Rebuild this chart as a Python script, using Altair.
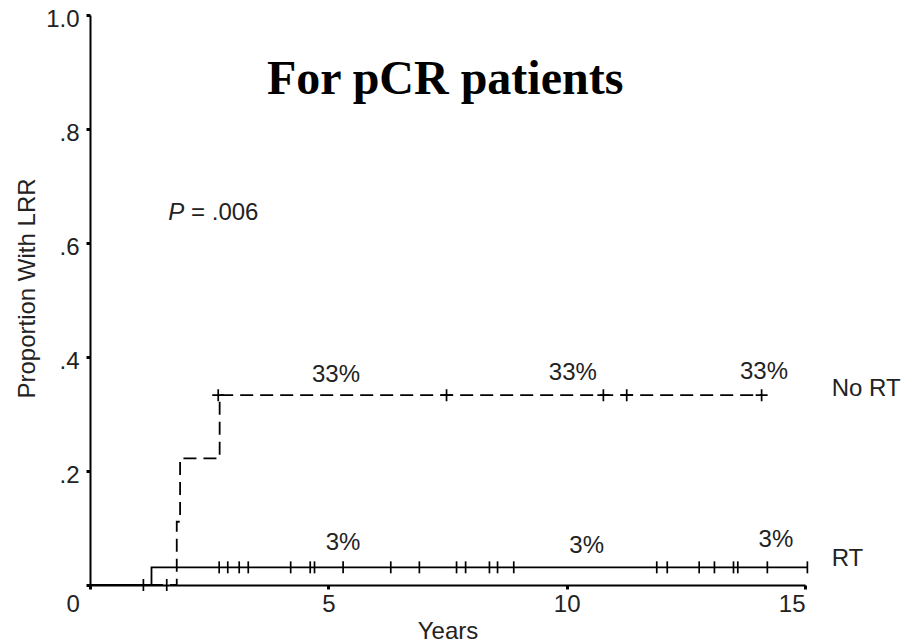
import altair as alt
import pandas as pd

# ---- Kaplan-Meier step curves (years, proportion with LRR) ----
no_rt_time = [0, 1.82, 1.89, 2.72, 14.09]
no_rt_prop = [0, 0.111, 0.222, 0.333, 0.333]
rt_time = [0, 1.29, 15.05]
rt_prop = [0, 0.031, 0.031]

# ---- censor marks ----
rt_cens_time = [1.12, 2.71, 2.89, 3.13, 3.32, 4.21, 4.62, 4.71, 5.31, 6.31, 6.91,
                7.69, 7.88, 8.38, 8.55, 8.89, 11.89, 12.11, 12.78, 13.10, 13.50,
                13.59, 14.21, 15.05]
rt_cens_prop = [0] + [0.031] * 23
no_rt_cens_time = [1.61, 2.69, 7.48, 10.77, 11.26, 14.09]
no_rt_cens_prop = [0, 0.333, 0.333, 0.333, 0.333, 0.333]

# ---- annotations ----
pct_text = ["33%", "33%", "33%", "3%", "3%", "3%"]
pct_x = [5.16, 10.13, 14.14, 5.31, 10.42, 14.39]
pct_y = [0.357, 0.36, 0.362, 0.061, 0.056, 0.066]
group_text = ["No RT", "RT"]
group_x = [15.56, 15.56]
group_y = [0.331, 0.033]
title_text = ["For pCR patients"]
title_x = [7.45]
title_y = [0.862]
p_italic_text = ["P"]
p_rest_text = ["= .006"]
p_x = [1.64, 2.12]
p_y = [0.641, 0.641]

y_ticks = [0, 0.2, 0.4, 0.6, 0.8, 1.0]
x_ticks = [0, 5, 10, 15]

SANS = "Liberation Sans"
FS = 24

curves = pd.DataFrame({
    "t": no_rt_time + rt_time,
    "p": no_rt_prop + rt_prop,
    "g": ["No RT"] * len(no_rt_time) + ["RT"] * len(rt_time),
})
rt_cens = pd.DataFrame({"t": rt_cens_time, "p": rt_cens_prop})
nort_cens = pd.DataFrame({"t": no_rt_cens_time, "p": no_rt_cens_prop})
pct_df = pd.DataFrame({"t": pct_x, "p": pct_y, "txt": pct_text})
grp_df = pd.DataFrame({"t": group_x, "p": group_y, "txt": group_text})
ttl_df = pd.DataFrame({"t": title_x, "p": title_y, "txt": title_text})
p1_df = pd.DataFrame({"t": p_x[:1], "p": p_y[:1], "txt": p_italic_text})
p2_df = pd.DataFrame({"t": p_x[1:], "p": p_y[1:], "txt": p_rest_text})

xscale = alt.Scale(domain=[0, 15], nice=False, zero=True)
yscale = alt.Scale(domain=[0, 1], nice=False)

xaxis = alt.Axis(
    values=x_ticks, grid=False, title="Years",
    labelFont=SANS, labelFontSize=FS, labelColor="#222", labelPadding=3,
    labelOffset=alt.ExprRef("datum.value == 0 ? -24 : 0"),
    titleFont=SANS, titleFontSize=FS, titleFontWeight="normal", titleColor="#222",
    titleY=53, titleBaseline="alphabetic",
    domainColor="black", domainWidth=2, tickColor="black", tickSize=4, tickWidth=3,
)
yaxis = alt.Axis(
    values=y_ticks, grid=False, title="Proportion With LRR",
    labelExpr="datum.value == 0 ? '' : (datum.value == 1 ? '1.0' : replace(format(datum.value, '.1f'), '0.', '.'))",
    labelFont=SANS, labelFontSize=FS, labelColor="#222", labelPadding=7, labelOffset=4,
    titleFont=SANS, titleFontSize=FS, titleFontWeight="normal", titleColor="#222",
    titleX=-56, titleY=273, titleBaseline="alphabetic", titleAngle=-90, titleAlign="center",
    domainColor="black", domainWidth=2, tickColor="black", tickSize=4, tickWidth=3,
)

base_x = alt.X("t:Q", scale=xscale, axis=xaxis)
base_y = alt.Y("p:Q", scale=yscale, axis=yaxis)

nort_line = alt.Chart(curves).transform_filter("datum.g == 'No RT'").mark_line(
    interpolate="step-after", color="black", strokeWidth=1.8, strokeDash=[13, 7]
).encode(x=base_x, y=base_y)

rt_line = alt.Chart(curves).transform_filter("datum.g == 'RT'").mark_line(
    interpolate="step-after", color="black", strokeWidth=1.8
).encode(x="t:Q", y="p:Q")

VPATH = "M0,-1L0,1"
PLUS = "M-1,0L1,0M0,-1L0,1"

rt_ticks = alt.Chart(rt_cens).mark_point(
    shape=VPATH, size=144, stroke="black", strokeWidth=1.7, filled=False, opacity=1
).encode(x="t:Q", y="p:Q")

nort_ticks = alt.Chart(nort_cens).mark_point(
    size=144, stroke="black", strokeWidth=1.7, filled=False, opacity=1
).encode(
    x="t:Q", y="p:Q",
    shape=alt.condition("datum.p == 0", alt.value(VPATH), alt.value(PLUS)),
)

pct = alt.Chart(pct_df).mark_text(
    font=SANS, fontSize=FS, color="#222", align="center", baseline="alphabetic"
).encode(x="t:Q", y="p:Q", text="txt:N")

grp = alt.Chart(grp_df).mark_text(
    font=SANS, fontSize=FS, color="#222", align="left", baseline="alphabetic"
).encode(x="t:Q", y="p:Q", text="txt:N")

ttl = alt.Chart(ttl_df).mark_text(
    font="Liberation Serif", fontSize=48, fontWeight="bold", color="black",
    align="center", baseline="alphabetic"
).encode(x="t:Q", y="p:Q", text="txt:N")

pval1 = alt.Chart(p1_df).mark_text(
    font=SANS, fontSize=FS, fontStyle="italic", color="#222", align="left", baseline="alphabetic"
).encode(x="t:Q", y="p:Q", text="txt:N")

pval2 = alt.Chart(p2_df).mark_text(
    font=SANS, fontSize=FS, color="#222", align="left", baseline="alphabetic"
).encode(x="t:Q", y="p:Q", text="txt:N")

chart = alt.layer(
    nort_line, rt_line, rt_ticks, nort_ticks, pct, grp, ttl, pval1, pval2
).properties(
    width=715, height=570,
    autosize=alt.AutoSizeParams(type="none"),
    padding={"left": 90, "top": 15, "right": 102, "bottom": 58},
    background="white",
).configure_view(stroke=None)

chart.save("out.html", embed_options={"renderer": "svg", "actions": False})
